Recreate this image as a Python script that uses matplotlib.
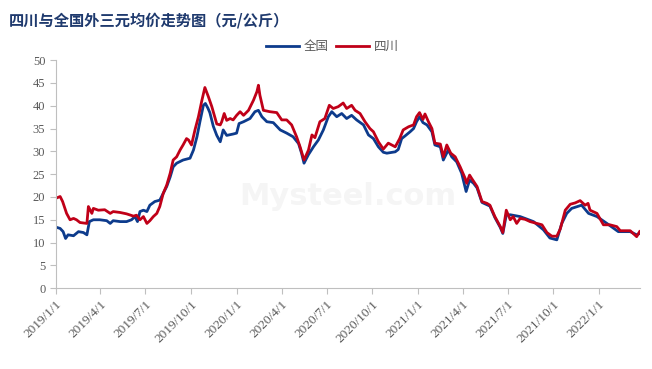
import pandas as pd
import matplotlib.pyplot as plt

# 四川 (red) readings
sc_dates = ['2019-01-01', '2019-01-10', '2019-01-15', '2019-01-23', '2019-01-30', '2019-02-06',
            '2019-02-12', '2019-02-19', '2019-03-05', '2019-03-08', '2019-03-15', '2019-03-18',
            '2019-03-28', '2019-04-10', '2019-04-21', '2019-04-27', '2019-05-11', '2019-05-24',
            '2019-06-07', '2019-06-13', '2019-06-20', '2019-06-27', '2019-07-04', '2019-07-10',
            '2019-07-17', '2019-07-24', '2019-07-30', '2019-08-06', '2019-08-13', '2019-08-20',
            '2019-08-26', '2019-09-02', '2019-09-09', '2019-09-15', '2019-09-22', '2019-09-26',
            '2019-10-02', '2019-10-09', '2019-10-16', '2019-10-23', '2019-10-29', '2019-11-05',
            '2019-11-12', '2019-11-22', '2019-11-29', '2019-12-02', '2019-12-07', '2019-12-12',
            '2019-12-19', '2019-12-25', '2020-01-01', '2020-01-08', '2020-01-15', '2020-01-25',
            '2020-02-04', '2020-02-11', '2020-02-14', '2020-02-17', '2020-02-24', '2020-03-08',
            '2020-03-22', '2020-04-01', '2020-04-11', '2020-04-21', '2020-05-01', '2020-05-08',
            '2020-05-16', '2020-05-25', '2020-06-01', '2020-06-07', '2020-06-17', '2020-06-27',
            '2020-07-06', '2020-07-14', '2020-07-24', '2020-08-03', '2020-08-10', '2020-08-20',
            '2020-08-27', '2020-09-06', '2020-09-16', '2020-09-26', '2020-10-03', '2020-10-13',
            '2020-10-23', '2020-11-02', '2020-11-16', '2020-11-25', '2020-12-02', '2020-12-13',
            '2020-12-23', '2020-12-29', '2021-01-04', '2021-01-11', '2021-01-15', '2021-01-22',
            '2021-01-29', '2021-02-04', '2021-02-15', '2021-02-21', '2021-02-28', '2021-03-08',
            '2021-03-17', '2021-03-27', '2021-04-06', '2021-04-09', '2021-04-15', '2021-04-19',
            '2021-04-30', '2021-05-10', '2021-05-20', '2021-05-26', '2021-06-05', '2021-06-16',
            '2021-06-21', '2021-06-28', '2021-07-06', '2021-07-12', '2021-07-19', '2021-07-26',
            '2021-08-05', '2021-08-15', '2021-08-29', '2021-09-08', '2021-09-18', '2021-09-28',
            '2021-10-08', '2021-10-15', '2021-10-25', '2021-11-04', '2021-11-14', '2021-11-24',
            '2021-12-04', '2021-12-10', '2021-12-14', '2021-12-28', '2022-01-10', '2022-01-23',
            '2022-02-06', '2022-02-13', '2022-03-05', '2022-03-18', '2022-03-24']
sc_values = [19.7, 20.1, 19.0, 16.4, 15.0, 15.3,
             15.0, 14.4, 14.2, 17.9, 16.4, 17.5,
             17.1, 17.2, 16.4, 16.8, 16.6, 16.3,
             15.8, 16.0, 15.0, 15.7, 14.2, 14.8,
             15.7, 16.4, 17.9, 20.8, 22.6, 25.2,
             28.1, 28.8, 30.3, 31.4, 32.8, 32.5,
             31.4, 34.7, 37.6, 41.2, 44.0, 42.0,
             39.8, 36.0, 35.8, 36.5, 38.3, 36.8,
             37.2, 36.9, 37.9, 38.7, 37.9, 39.0,
             41.2, 43.1, 44.5, 42.3, 39.0, 38.7,
             38.5, 36.9, 36.9, 35.8, 33.2, 31.0,
             28.1, 30.3, 33.6, 33.0, 36.5, 37.2,
             40.1, 39.4, 39.8, 40.6, 39.4, 40.1,
             39.0, 38.3, 36.5, 35.0, 34.3, 32.1,
             30.5, 31.8, 31.0, 32.8, 34.7, 35.4,
             35.8, 37.6, 38.5, 37.0, 38.2, 36.5,
             35.0, 31.8, 31.6, 28.8, 31.4, 29.6,
             28.8, 26.6, 24.1, 23.0, 24.8, 24.1,
             22.3, 19.0, 18.6, 18.2, 15.7, 13.5,
             12.2, 17.1, 15.0, 15.7, 14.2, 15.3,
             15.1, 14.6, 14.2, 13.9, 12.2, 11.4,
             11.4, 13.0, 17.1, 18.4, 18.7, 19.2,
             18.2, 18.6, 17.1, 16.4, 13.9, 13.9,
             13.5, 12.6, 12.6, 11.3, 12.4]

# 全国 (blue) readings
qg_dates = ['2019-01-01', '2019-01-10', '2019-01-16', '2019-01-21', '2019-01-26', '2019-02-06',
            '2019-02-16', '2019-02-26', '2019-03-05', '2019-03-10', '2019-03-18', '2019-03-31',
            '2019-04-14', '2019-04-21', '2019-04-27', '2019-05-11', '2019-05-24', '2019-06-03',
            '2019-06-10', '2019-06-15', '2019-06-20', '2019-06-27', '2019-07-04', '2019-07-10',
            '2019-07-20', '2019-07-30', '2019-08-06', '2019-08-13', '2019-08-20', '2019-08-26',
            '2019-09-02', '2019-09-15', '2019-09-29', '2019-10-06', '2019-10-13', '2019-10-19',
            '2019-10-26', '2019-10-30', '2019-11-04', '2019-11-08', '2019-11-15', '2019-11-22',
            '2019-11-29', '2019-12-05', '2019-12-12', '2019-12-25', '2020-01-01', '2020-01-06',
            '2020-01-15', '2020-01-28', '2020-02-07', '2020-02-14', '2020-02-21', '2020-03-02',
            '2020-03-15', '2020-03-29', '2020-04-11', '2020-04-24', '2020-05-05', '2020-05-11',
            '2020-05-16', '2020-05-25', '2020-06-04', '2020-06-14', '2020-06-24', '2020-07-04',
            '2020-07-11', '2020-07-21', '2020-07-31', '2020-08-10', '2020-08-20', '2020-08-30',
            '2020-09-13', '2020-09-23', '2020-10-03', '2020-10-13', '2020-10-23', '2020-10-30',
            '2020-11-16', '2020-11-22', '2020-11-29', '2020-12-06', '2020-12-16', '2020-12-23',
            '2020-12-29', '2021-01-04', '2021-01-11', '2021-01-19', '2021-01-29', '2021-02-04',
            '2021-02-15', '2021-02-21', '2021-03-03', '2021-03-10', '2021-03-20', '2021-03-30',
            '2021-04-08', '2021-04-15', '2021-04-23', '2021-04-30', '2021-05-10', '2021-05-20',
            '2021-05-26', '2021-06-05', '2021-06-16', '2021-06-21', '2021-06-28', '2021-07-06',
            '2021-07-26', '2021-08-22', '2021-09-11', '2021-09-24', '2021-10-08', '2021-10-18',
            '2021-10-28', '2021-11-07', '2021-11-27', '2021-12-11', '2021-12-28', '2022-01-17',
            '2022-02-09', '2022-03-05', '2022-03-18', '2022-03-24']
qg_values = [13.4, 13.1, 12.4, 10.9, 11.7, 11.5,
             12.4, 12.2, 11.7, 14.6, 15.0, 15.0,
             14.8, 14.2, 14.8, 14.6, 14.6, 15.0,
             15.7, 14.6, 16.8, 17.1, 16.8, 18.2,
             19.0, 19.3, 20.8, 22.3, 24.4, 26.6,
             27.4, 28.1, 28.5, 30.3, 33.2, 36.5,
             40.1, 40.5, 39.5, 38.5, 35.5, 33.5,
             32.1, 34.7, 33.5, 33.8, 34.0, 36.1,
             36.5, 37.2, 38.7, 39.0, 37.6, 36.5,
             36.3, 34.7, 34.0, 33.2, 31.7, 29.6,
             27.4, 29.3, 31.0, 32.5, 34.7, 37.6,
             38.7, 37.6, 38.3, 37.2, 37.9, 36.9,
             35.8, 33.6, 32.8, 31.0, 29.8, 29.6,
             29.9, 30.4, 32.8, 33.4, 34.3, 35.0,
             36.5, 37.6, 36.3, 35.8, 34.3, 31.4,
             31.0, 28.1, 30.3, 28.8, 27.7, 25.2,
             21.2, 23.7, 23.0, 22.0, 18.8, 18.3,
             18.0, 15.5, 13.3, 12.0, 16.0, 16.1,
             15.7, 14.6, 12.8, 11.0, 10.6, 14.2,
             16.4, 17.5, 18.2, 16.4, 15.7, 14.2,
             12.4, 12.4, 11.7, 12.0]

tick_dates = pd.date_range('2019-01-01', '2022-01-01', freq='QS')

blue = '#0d3b8c'
red = '#c00018'
grey = '#595959'

fig = plt.figure(figsize=(6.52, 3.69), dpi=100)
ax = fig.add_axes([0.0854, 0.219, 0.8956, 0.618])

ax.plot(pd.to_datetime(qg_dates), qg_values, color=blue, lw=2.0, label='全国')
ax.plot(pd.to_datetime(sc_dates), sc_values, color=red, lw=2.0, label='四川')

ax.set_xlim(pd.Timestamp('2019-01-01'), pd.Timestamp('2022-03-24'))
ax.set_ylim(0, 50)
ax.set_yticks(range(0, 51, 5))
ax.set_xticks(tick_dates)
ax.set_xticklabels([f'{d.year}/{d.month}/1' for d in tick_dates],
                   rotation=45, ha='right', rotation_mode='anchor')

for s in ['top', 'right']:
    ax.spines[s].set_visible(False)
for s in ['left', 'bottom']:
    ax.spines[s].set_color('#bfbfbf')
ax.tick_params(axis='both', colors='#bfbfbf', length=4, width=0.8,
               labelcolor=grey, labelsize=9)
ax.tick_params(axis='x', labelsize=9.5)
for lab in ax.get_xticklabels() + ax.get_yticklabels():
    lab.set_family('Liberation Serif')

# faint watermark
ax.text(0.5, 0.4, 'Mysteel.com', transform=ax.transAxes, ha='center', va='center',
        fontsize=22, fontweight='bold', color='#f5f5f5', zorder=0)

fig.text(0.014, 0.945, '四川与全国外三元均价走势图（元/公斤）', fontsize=11,
         fontweight='bold', color='#1f3a6e', family='Noto Sans CJK SC', va='center')

leg = fig.legend(loc='center', bbox_to_anchor=(0.51, 0.873), ncol=2, frameon=False,
                 prop={'family': 'Noto Sans CJK SC', 'size': 9},
                 handlelength=2.6, columnspacing=0.6, handletextpad=0.4)
for t in leg.get_texts():
    t.set_color(grey)

fig.savefig('out.png', dpi=100)
